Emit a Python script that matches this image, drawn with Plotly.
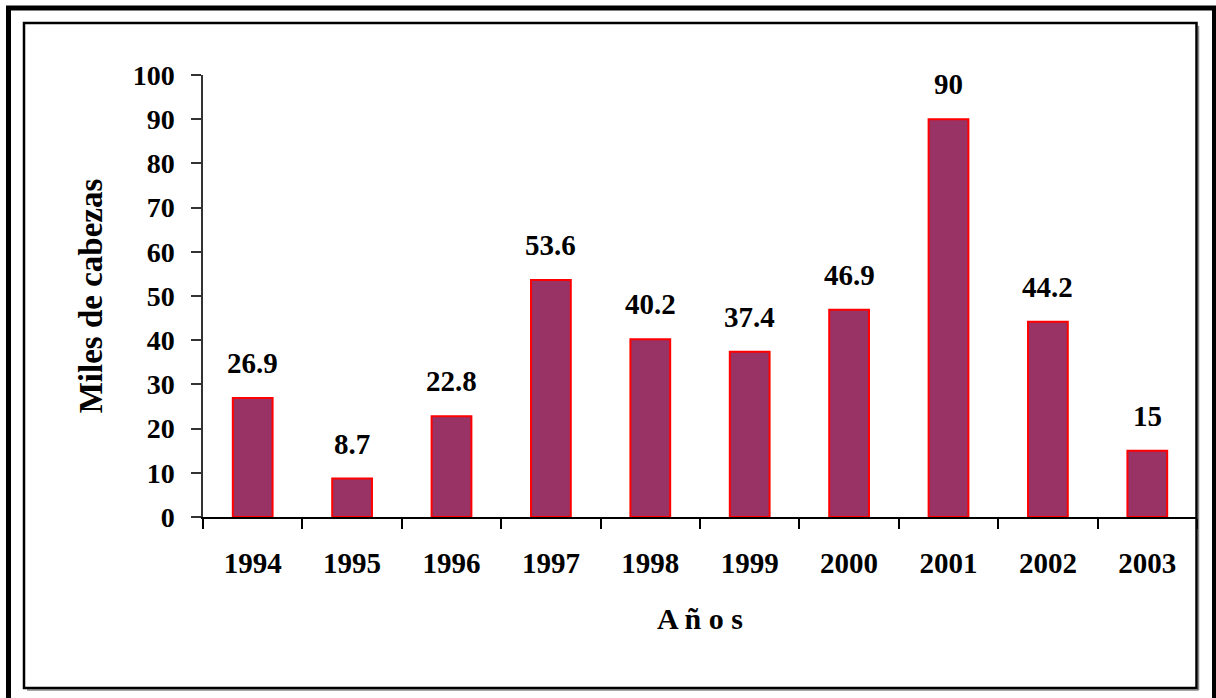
import plotly.graph_objects as go

years = ["1994", "1995", "1996", "1997", "1998", "1999", "2000", "2001", "2002", "2003"]
values = [26.9, 8.7, 22.8, 53.6, 40.2, 37.4, 46.9, 90, 44.2, 15]
y_ticks = list(range(0, 101, 10))

W, H = 1216, 698
L, R, T, B = 203, 1197, 75, 517  # plot area in pixels

def px(x):
    return (x - L) / (R - L)

def py(y):
    return (B - y) / (B - T)

FONT = "Liberation Serif, Times New Roman, serif"

fig = go.Figure()
fig.add_trace(go.Bar(
    x=years, y=values,
    marker=dict(color="#993366", line=dict(color="#ff0000", width=2)),
    hoverinfo="x+y",
))

# value labels: category axis positions are the categories' serial numbers
annotations = []
for i, (yr, v) in enumerate(zip(years, values)):
    annotations.append(dict(
        x=i, y=v, xref="x", yref="y", text=f"{v:g}", showarrow=False,
        yanchor="bottom", yshift=17,
        font=dict(family=FONT, size=29, color="black", weight="bold"),
    ))

shapes = [
    # outer thick frame
    dict(type="rect", xref="paper", yref="paper",
         x0=px(8.5), x1=px(1214.5), y0=py(8), y1=py(710),
         line=dict(color="black", width=5), fillcolor="rgba(0,0,0,0)", layer="above"),
    # inner frame shadow
    dict(type="line", xref="paper", yref="paper",
         x0=px(1198.5), x1=px(1198.5), y0=py(26), y1=py(690),
         line=dict(color="#888888", width=1.5)),
    dict(type="line", xref="paper", yref="paper",
         x0=px(27), x1=px(1198.5), y0=py(690), y1=py(690),
         line=dict(color="#888888", width=1.5)),
    # inner frame
    dict(type="rect", xref="paper", yref="paper",
         x0=px(24), x1=px(1196.5), y0=py(23), y1=py(688),
         line=dict(color="black", width=2.5), fillcolor="rgba(0,0,0,0)", layer="above"),
]

fig.update_layout(
    width=W, height=H,
    margin=dict(l=L, r=W - R, t=T, b=H - B, pad=0),
    paper_bgcolor="white", plot_bgcolor="white",
    showlegend=False,
    bargap=0.6,
    font=dict(family=FONT, color="black"),
    annotations=annotations,
    shapes=shapes,
)

fig.update_xaxes(
    type="category", range=[-0.5, len(years) - 0.5], automargin=False,
    showline=True, linecolor="black", linewidth=1.5,
    ticks="outside", tickson="boundaries", ticklen=10, tickcolor="black", tickwidth=1.5,
    ticklabelstandoff=19, tickangle=0,
    tickfont=dict(family=FONT, size=29, color="black", weight="bold"),
    showgrid=False, zeroline=False,
    title=dict(text="A ñ o s", standoff=30,
               font=dict(family=FONT, size=30, color="black", weight="bold")),
)

fig.update_yaxes(
    range=[0, 100], tickvals=y_ticks, automargin=False,
    showline=True, linecolor="#333333", linewidth=1.5,
    ticks="outside", ticklen=10, tickcolor="#333333", tickwidth=1.5,
    ticklabelstandoff=11,
    tickfont=dict(family=FONT, size=28, color="black", weight="bold"),
    showgrid=False, zeroline=False,
    title=dict(text="Miles de cabezas", standoff=20,
               font=dict(family=FONT, size=33, color="black", weight="bold")),
)

fig.write_html("out.html", config={"displayModeBar": False},
               post_script="document.body.style.margin='0';document.body.style.overflow='hidden';")
